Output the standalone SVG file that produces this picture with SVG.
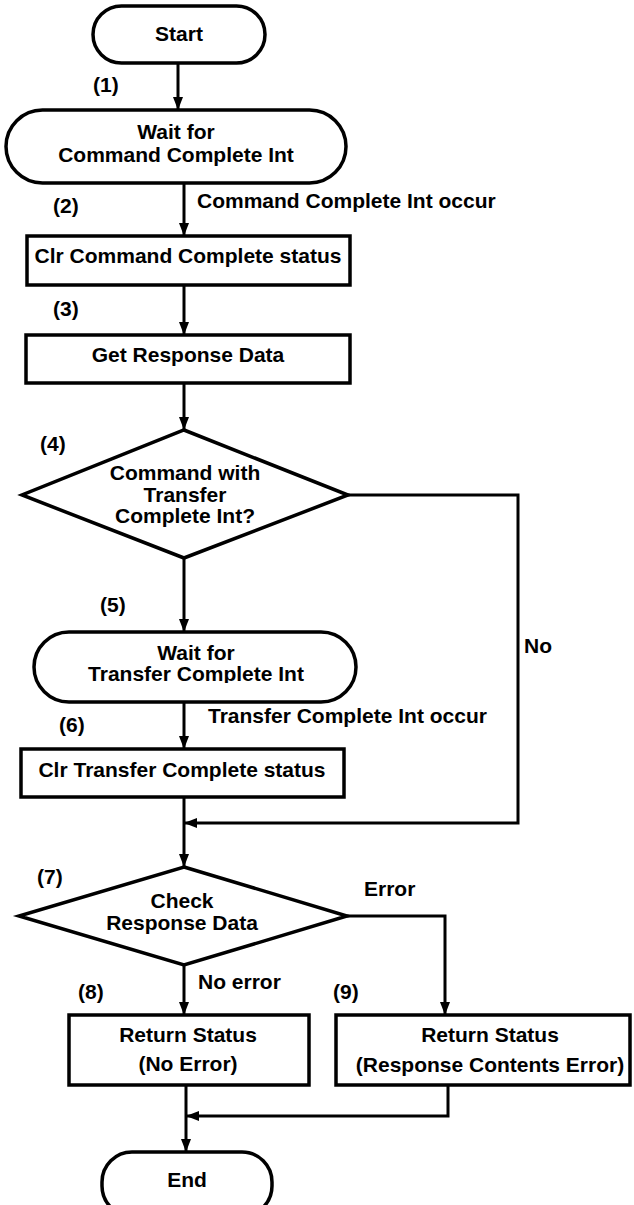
<svg xmlns="http://www.w3.org/2000/svg" width="634" height="1205" viewBox="0 0 634 1205">
<style>
.s{fill:#fff;stroke:#000;stroke-width:3.5}
.t{font-family:"Liberation Sans",Arial,sans-serif;font-weight:bold;font-size:21px;fill:#000}
.c{text-anchor:middle}
.e{fill:none;stroke:#000;stroke-width:3}
</style>
<defs>
<marker id="a" markerUnits="userSpaceOnUse" markerWidth="13" markerHeight="10" refX="13" refY="5" orient="auto"><path d="M0,0 L13,5 L0,10 z" fill="#000"/></marker>
<clipPath id="cp"><rect x="0" y="600" width="634" height="83"/></clipPath>
</defs>
<rect width="634" height="1205" fill="#fff"/>
<g id="connectors">
<path class="e" d="M178,63 V110" marker-end="url(#a)"/>
<path class="e" d="M184,183 V236" marker-end="url(#a)"/>
<path class="e" d="M184,285 V335" marker-end="url(#a)"/>
<path class="e" d="M184,383 V430" marker-end="url(#a)"/>
<path class="e" d="M184,558 V632" marker-end="url(#a)"/>
<path class="e" d="M348,495 H518 V823 H184" marker-end="url(#a)"/>
<path class="e" d="M184,702 V749" marker-end="url(#a)"/>
<path class="e" d="M184,797 V867" marker-end="url(#a)"/>
<path class="e" d="M347,916 H445 V1015" marker-end="url(#a)"/>
<path class="e" d="M184,965 V1015" marker-end="url(#a)"/>
<path class="e" d="M186,1085 V1152" marker-end="url(#a)"/>
<path class="e" d="M448,1085 V1116 H186" marker-end="url(#a)"/>
<text class="t" x="197" y="208">Command Complete Int occur</text>
<text class="t" x="524" y="653">No</text>
<text class="t" x="208" y="723">Transfer Complete Int occur</text>
<text class="t" x="364" y="896">Error</text>
<text class="t" x="198" y="989">No error</text>
</g>
<g id="labels">
<text class="t" x="93" y="92">(1)</text>
<text class="t" x="53" y="213">(2)</text>
<text class="t" x="53" y="316">(3)</text>
<text class="t" x="40" y="451">(4)</text>
<text class="t" x="100" y="612">(5)</text>
<text class="t" x="59" y="732">(6)</text>
<text class="t" x="37" y="884">(7)</text>
<text class="t" x="78" y="999">(8)</text>
<text class="t" x="333" y="999">(9)</text>
</g>
<g id="start"><rect class="s" x="93" y="6" width="172" height="57" rx="28.5"/><text class="t c" x="179" y="41">Start</text></g>
<g id="wait1"><rect class="s" x="6" y="110" width="340" height="73" rx="36.5"/><text class="t c" x="176" y="139">Wait for</text><text class="t c" x="176" y="162">Command Complete Int</text></g>
<g id="clr1"><rect class="s" x="27" y="236" width="323" height="49"/><text class="t c" x="188" y="263">Clr Command Complete status</text></g>
<g id="get"><rect class="s" x="26" y="335" width="324" height="48"/><text class="t c" x="188" y="362">Get Response Data</text></g>
<g id="d1"><polygon class="s" points="184,430 348,495 184,558 22,495"/><text class="t c" x="185" y="480">Command with</text><text class="t c" x="185" y="502">Transfer</text><text class="t c" x="185" y="523">Complete Int?</text></g>
<g id="wait2"><rect class="s" x="34" y="632" width="322" height="70" rx="35"/><text class="t c" x="196" y="660">Wait for</text><text class="t c" x="196" y="681" clip-path="url(#cp)">Transfer Complete Int</text></g>
<g id="clr2"><rect class="s" x="21" y="749" width="323" height="48"/><text class="t c" x="182" y="777">Clr Transfer Complete status</text></g>
<g id="d2"><polygon class="s" points="184,867 347,916 184,965 19,916"/><text class="t c" x="182" y="908">Check</text><text class="t c" x="182" y="930">Response Data</text></g>
<g id="ret1"><rect class="s" x="69" y="1015" width="240" height="70"/><text class="t c" x="188" y="1042">Return Status</text><text class="t c" x="188" y="1071">(No Error)</text></g>
<g id="ret2"><rect class="s" x="336" y="1015" width="294" height="70"/><text class="t c" x="490" y="1042">Return Status</text><text class="t c" x="490" y="1072">(Response Contents Error)</text></g>
<g id="end"><rect class="s" x="102" y="1152" width="170" height="64" rx="30"/><text class="t c" x="187" y="1187">End</text></g>
</svg>
